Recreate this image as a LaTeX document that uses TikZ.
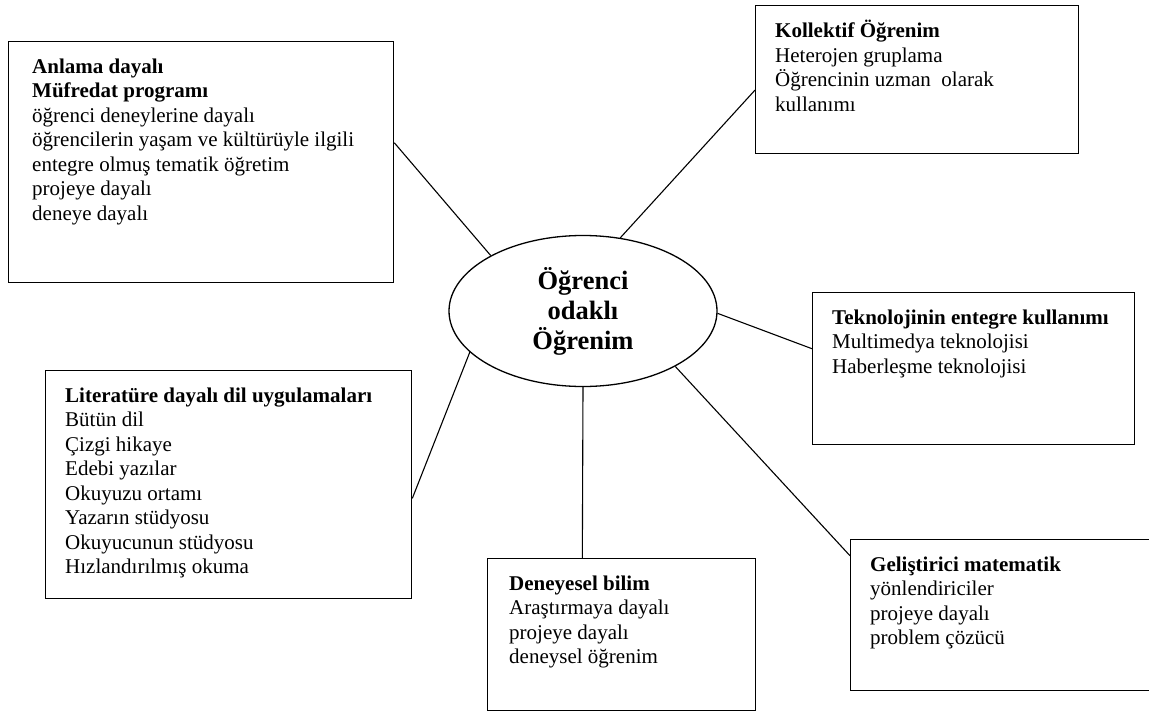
\documentclass[tikz,border=0pt]{standalone}
\usepackage{fontspec}
\setmainfont{Liberation Serif}
\usetikzlibrary{shapes.geometric, positioning, calc}
\tikzset{konu/.style={draw,rectangle,inner sep=0pt,anchor=north west,line width=1.3pt},
    yazi/.style={anchor=north west,inner sep=0pt,align=left,font=\fontsize{21}{24.5}\selectfont},
    merkez/.style={draw,ellipse,line width=1.3pt,minimum width=268pt,minimum height=151pt,
        inner sep=0pt,align=center,font=\fontsize{26.5}{30}\selectfont\bfseries},
    bag/.style={draw,line width=1.1pt}}

\begin{document}
\begin{tikzpicture}[x=1pt,y=-1pt]
    \clip (0,0) rectangle (1149,712);
    \node[merkez] (ogrenci) at (583,311) {Öğrenci\\odaklı\\Öğrenim};

    \node[konu, minimum width=385pt, minimum height=241pt] (anlama) at (8,41) {};
    \node[konu, minimum width=323pt, minimum height=148pt] (kollektif) at (755,5) {};
    \node[konu, minimum width=322pt, minimum height=152pt] (teknoloji) at (812,292) {};
    \node[konu, minimum width=330pt, minimum height=151pt] (gelistirici) at (850,539) {};
    \node[konu, minimum width=268pt, minimum height=152pt] (deneyesel) at (487,558) {};
    \node[konu, minimum width=366pt, minimum height=228pt] (literatur) at (45,370) {};

    \node[yazi] (anlamayazi) at ([xshift=24pt,yshift=-15pt]anlama.north west)
        {\strut\textbf{Anlama dayalı}\\\textbf{Müfredat programı}\\öğrenci deneylerine dayalı\\öğrencilerin yaşam ve kültürüyle ilgili\\entegre olmuş tematik öğretim\\projeye dayalı\\deneye dayalı};
    \node[yazi] (kollektifyazi) at ([xshift=20pt,yshift=-15pt]kollektif.north west)
        {\strut\textbf{Kollektif Öğrenim}\\Heterojen gruplama\\Öğrencinin uzman~ olarak\\kullanımı};
    \node[yazi] (teknolojiyazi) at ([xshift=20pt,yshift=-15pt]teknoloji.north west)
        {\strut\textbf{Teknolojinin entegre kullanımı}\\Multimedya teknolojisi\\Haberleşme teknolojisi};
    \node[yazi] (gelistiriciyazi) at ([xshift=20pt,yshift=-15pt]gelistirici.north west)
        {\strut\textbf{Geliştirici matematik}\\yönlendiriciler\\projeye dayalı\\problem çözücü};
    \node[yazi] (deneyeselyazi) at ([xshift=22pt,yshift=-15pt]deneyesel.north west)
        {\strut\textbf{Deneyesel bilim}\\Araştırmaya dayalı\\projeye dayalı\\deneysel öğrenim};
    \node[yazi] (literaturyazi) at ([xshift=20pt,yshift=-15pt]literatur.north west)
        {\strut\textbf{Literatüre dayalı dil uygulamaları}\\Bütün dil\\Çizgi hikaye\\Edebi yazılar\\Okuyuzu ortamı\\Yazarın stüdyosu\\Okuyucunun stüdyosu\\Hızlandırılmış okuma};

    % merkezden kutulara
    \path[bag] (ogrenci.149.5) -- ($(anlama.north east)!0.42!(anlama.south east)$);
    \path[bag] (ogrenci.63) -- ($(kollektif.north west)!0.57!(kollektif.south west)$);
    \path[bag] (ogrenci.-1) -- ($(teknoloji.north west)!0.37!(teknoloji.south west)$);
    \path[bag] (ogrenci.-31) -- ($(gelistirici.north west)!0.11!(gelistirici.south west)$);
    \path[bag] (ogrenci.south) -- ($(deneyesel.north west)!0.354!(deneyesel.north east)$);
    \path[bag] (ogrenci.-160.5) -- ($(literatur.north east)!0.56!(literatur.south east)$);
\end{tikzpicture}
\end{document}
